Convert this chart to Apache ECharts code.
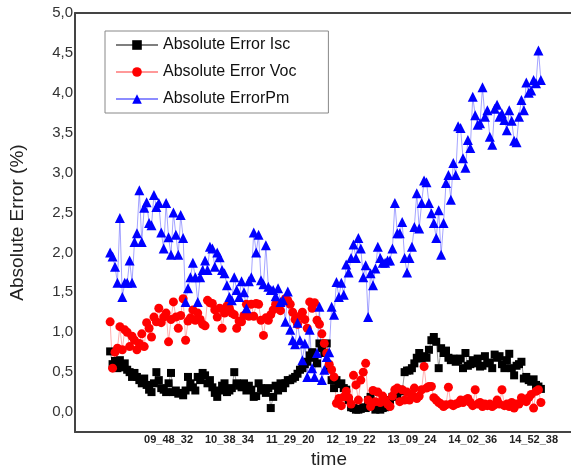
<!DOCTYPE html>
<html>
<head>
<meta charset="utf-8">
<script src="https://cdn.jsdelivr.net/npm/echarts@6/dist/echarts.min.js"></script>
<style>
html,body{margin:0;padding:0;background:#fff;}
#chart{width:571px;height:474px;}
</style>
</head>
<body>
<div id="chart"></div>
<script>
// Tick labels on the time axis and the sample index where each one sits
const tickLabels = ['09_48_32','10_38_34','11_29_20','12_19_22','13_09_24','14_02_36','14_52_38'];
const tickIndex  = [24, 49, 74, 99, 124, 149, 174];

// Absolute Error Isc (%)
const isc = [
 0.76,0.60,0.64,0.55,0.65,0.56,0.61,0.53,0.50,0.44,
 0.49,0.44,0.40,0.36,0.42,0.34,0.28,0.25,0.36,0.50,
 0.40,0.30,0.28,0.25,0.36,0.49,0.25,0.27,0.23,0.24,
 0.21,0.27,0.44,0.36,0.31,0.27,0.44,0.40,0.49,0.46,
 0.36,0.40,0.31,0.24,0.19,0.27,0.33,0.36,0.25,0.27,
 0.30,0.50,0.36,0.33,0.31,0.36,0.27,0.33,0.28,0.19,
 0.20,0.36,0.30,0.27,0.24,0.30,0.05,0.19,0.33,0.27,
 0.36,0.30,0.36,0.40,0.40,0.42,0.44,0.48,0.53,0.55,
 0.60,0.63,0.71,0.75,0.68,0.61,0.86,0.80,0.74,0.86,
 0.55,0.40,0.30,0.40,0.35,0.36,0.30,0.28,0.15,0.06,
 0.05,0.03,0.03,0.04,0.06,0.05,0.15,0.19,0.10,0.03,
 0.04,0.03,0.05,0.06,0.12,0.15,0.19,0.24,0.22,0.28,
 0.26,0.50,0.52,0.52,0.55,0.61,0.68,0.74,0.67,0.70,
 0.68,0.78,0.90,0.94,0.88,0.55,0.80,0.74,0.77,0.68,
 0.65,0.67,0.63,0.65,0.67,0.55,0.74,0.58,0.60,0.65,
 0.61,0.67,0.57,0.58,0.70,0.61,0.62,0.55,0.72,0.68,
 0.70,0.60,0.55,0.65,0.73,0.55,0.46,0.58,0.60,0.63,
 0.42,0.44,0.40,0.38,0.41,0.34,0.32,0.29
];

// Absolute Error Voc (%)
const voc = [
 1.13,0.55,0.75,0.80,1.07,0.78,1.03,1.00,0.82,0.95,
 0.90,0.78,0.86,0.98,0.82,1.12,1.05,0.94,1.19,1.13,
 1.30,1.12,1.19,1.24,0.88,1.16,1.38,1.19,1.05,1.21,
 1.42,0.90,1.14,1.18,1.28,1.15,1.24,1.16,1.10,1.08,
 1.40,1.37,1.36,1.28,1.19,1.30,1.05,1.24,1.33,1.30,
 1.24,1.22,1.05,1.14,1.13,1.21,1.35,1.20,1.35,1.20,
 1.36,1.35,1.15,0.96,1.18,1.15,1.22,1.28,1.35,1.35,
 1.27,1.38,1.42,1.40,1.35,1.25,1.16,1.10,1.20,1.25,
 1.16,1.05,1.38,1.30,1.37,1.15,1.10,0.98,0.86,0.74,
 0.60,0.53,0.44,0.11,0.17,0.08,0.19,0.26,0.18,0.10,
 0.46,0.34,0.15,0.40,0.50,0.61,0.15,0.07,0.27,0.13,
 0.25,0.12,0.20,0.15,0.10,0.07,0.20,0.28,0.30,0.13,
 0.28,0.15,0.25,0.15,0.22,0.30,0.17,0.20,0.28,0.57,
 0.30,0.32,0.32,0.18,0.15,0.12,0.10,0.07,0.09,0.31,
 0.10,0.08,0.10,0.11,0.15,0.12,0.15,0.17,0.12,0.08,
 0.28,0.10,0.12,0.07,0.10,0.08,0.10,0.07,0.09,0.15,
 0.10,0.28,0.08,0.10,0.07,0.12,0.05,0.10,0.10,0.18,
 0.15,0.13,0.18,0.22,0.05,0.26,0.28,0.12
];

// Absolute Error Pm (%)
const pm = [
 2.00,1.95,1.82,1.62,2.43,1.44,1.62,1.62,1.90,1.62,
 2.13,2.24,2.78,2.13,2.56,2.63,2.37,2.34,2.72,2.57,
 2.62,2.25,2.05,2.62,2.19,1.97,2.50,2.22,1.97,2.47,
 2.18,1.38,1.55,1.69,1.87,1.69,1.38,1.69,1.78,1.90,
 1.78,2.07,2.05,1.82,2.00,1.94,1.78,1.74,1.59,1.44,
 1.40,1.69,1.53,1.44,1.64,1.50,1.30,1.64,1.69,2.25,
 2.00,2.22,1.65,1.60,2.09,1.57,1.53,1.53,1.45,1.55,
 1.38,1.40,1.13,1.51,1.03,0.90,0.85,1.12,0.90,0.65,
 0.86,0.44,1.03,0.55,0.44,0.74,1.32,0.40,0.53,0.69,
 0.75,1.32,1.22,1.63,1.44,1.62,1.47,1.85,1.75,1.93,
 2.10,1.93,2.18,2.05,1.69,1.84,1.19,1.74,1.59,1.80,
 2.07,1.93,1.87,1.87,1.90,1.90,2.05,2.62,2.24,2.24,
 2.38,1.93,1.75,1.93,2.07,2.32,2.74,2.30,2.62,2.90,
 2.88,2.62,2.49,2.37,2.18,2.53,1.97,2.37,2.87,2.97,
 2.66,3.12,2.97,3.58,3.56,3.18,3.06,3.41,3.31,3.95,
 3.72,3.60,3.62,4.07,3.70,3.78,3.45,3.35,3.80,3.85,
 3.70,3.74,3.66,3.53,3.78,3.65,3.40,3.38,3.70,3.91,
 3.78,4.13,4.00,4.03,4.16,4.12,4.53,4.16
];

const yTicks = [0,0.5,1,1.5,2,2.5,3,3.5,4,4.5,5];
const seriesNames = ['Absolute Error Isc','Absolute Error Voc','Absolute ErrorPm'];

const FONT = "'Liberation Sans', Arial, sans-serif";
const X_MIN = -14.44, X_MAX = 194.3;
const chart = echarts.init(document.getElementById('chart'), null, {renderer:'canvas'});

function pts(arr){ return arr.map((v,i)=>[i,v]); }

chart.setOption({
  animation:false,
  backgroundColor:'#ffffff',
  textStyle:{fontFamily:FONT},
  grid:{left:75, top:13, right:-12, bottom:42, outerBoundsMode:'none', containLabel:false},
  legend:{
    orient:'vertical', left:105, top:31,
    itemWidth:42, itemHeight:12, itemGap:11,
    borderColor:'#888', borderWidth:1, padding:[6,32,6,10],
    textStyle:{fontSize:16, color:'#111', fontFamily:FONT},
    data:seriesNames
  },
  xAxis:[{
    type:'value', min:X_MIN, max:X_MAX,
    axisLine:{show:true, onZero:false, lineStyle:{color:'#444', width:2}},
    axisTick:{show:false},
    splitLine:{show:false},
    axisLabel:{
      customValues:tickIndex,
      formatter:function(v){ const k = tickIndex.indexOf(v); return k>=0 ? tickLabels[k] : ''; },
      fontWeight:'bold', fontSize:11, color:'#222', margin:2,
      fontFamily:"'Liberation Sans Narrow', 'Liberation Sans', Arial, sans-serif"
    },
    name:'time', nameLocation:'middle', nameGap:16,
    nameTextStyle:{fontSize:19, color:'#222', fontFamily:FONT}
  },{
    type:'value', position:'top', min:X_MIN, max:X_MAX,
    axisLine:{show:true, onZero:false, lineStyle:{color:'#444', width:2}},
    axisTick:{show:false}, axisLabel:{show:false}, splitLine:{show:false}
  }],
  yAxis:{
    type:'value', min:-0.25, max:5,
    axisLine:{show:true, onZero:false, lineStyle:{color:'#444', width:2}},
    axisTick:{show:false},
    splitLine:{show:false},
    axisLabel:{
      customValues:yTicks,
      formatter:function(v){ return v.toFixed(1).replace('.', ','); },
      fontSize:15, color:'#333', margin:2, fontFamily:FONT
    },
    name:'Absolute Error (%)', nameLocation:'middle', nameGap:48, nameRotate:90,
    nameTextStyle:{fontSize:19, color:'#222', fontFamily:FONT}
  },
  series:[
    {
      name:seriesNames[0], type:'line', data:pts(isc), xAxisIndex:0,
      symbol:'rect', symbolSize:8,
      itemStyle:{color:'#000000'},
      lineStyle:{color:'#000000', width:0.8, opacity:0.5}
    },
    {
      name:seriesNames[1], type:'line', data:pts(voc), xAxisIndex:0,
      symbol:'circle', symbolSize:9,
      itemStyle:{color:'#ff0000'},
      lineStyle:{color:'#ff0000', width:0.8, opacity:0.4}
    },
    {
      name:seriesNames[2], type:'line', data:pts(pm), xAxisIndex:0,
      symbol:'triangle', symbolSize:10,
      itemStyle:{color:'#0000ff'},
      lineStyle:{color:'#0000ff', width:0.8, opacity:0.45}
    }
  ]
});
</script>
</body>
</html>
